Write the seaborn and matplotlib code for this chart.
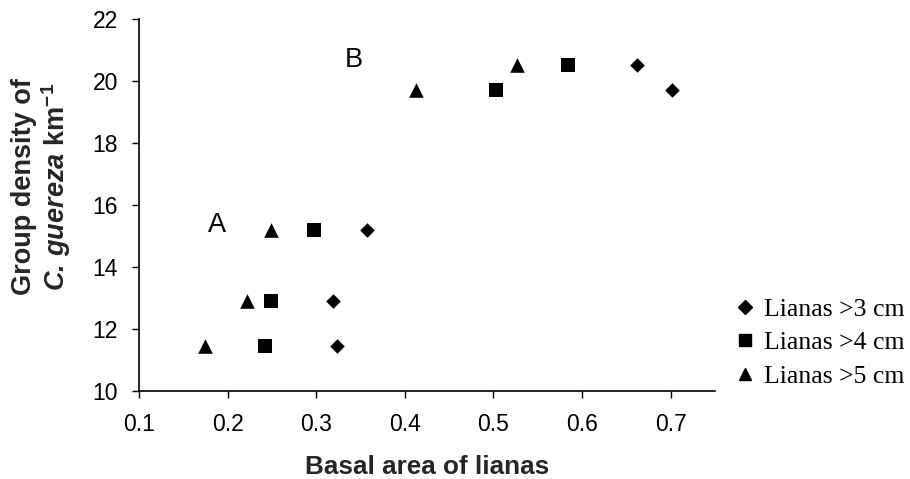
import matplotlib
matplotlib.use("Agg")
import matplotlib.pyplot as plt
import seaborn as sns
import pandas as pd

# Data
basal_3cm = [0.357, 0.319, 0.324, 0.662, 0.701]
density_3cm = [15.18, 12.92, 11.44, 20.52, 19.71]
basal_4cm = [0.298, 0.249, 0.242, 0.584, 0.503]
density_4cm = [15.18, 12.92, 11.44, 20.52, 19.71]
basal_5cm = [0.249, 0.222, 0.174, 0.527, 0.413]
density_5cm = [15.18, 12.92, 11.44, 20.52, 19.71]
series_names = ["Lianas >3 cm", "Lianas >4 cm", "Lianas >5 cm"]
x_ticks = [0.1, 0.2, 0.3, 0.4, 0.5, 0.6, 0.7]
y_ticks = [10, 12, 14, 16, 18, 20, 22]
group_labels = ["A", "B"]
group_label_x = [0.188, 0.342]
group_label_y = [15.35, 20.68]

sns.set_theme(style="white")
plt.rcParams["font.family"] = ["Liberation Sans", "DejaVu Sans"]
plt.rcParams["mathtext.fontset"] = "custom"
plt.rcParams["mathtext.rm"] = "Liberation Sans"
plt.rcParams["mathtext.it"] = "Liberation Sans:italic"
plt.rcParams["mathtext.bf"] = "Liberation Sans:bold"
plt.rcParams["mathtext.bfit"] = "Liberation Sans:bold:italic"

df = pd.concat([
    pd.DataFrame({"basal": basal_3cm, "density": density_3cm, "series": series_names[0]}),
    pd.DataFrame({"basal": basal_4cm, "density": density_4cm, "series": series_names[1]}),
    pd.DataFrame({"basal": basal_5cm, "density": density_5cm, "series": series_names[2]}),
])

fig = plt.figure(figsize=(9.1, 4.79), dpi=100)
ax = fig.add_axes([0.1527, 0.1837, 0.633, 0.7763])

markers = {series_names[0]: "D", series_names[1]: "s", series_names[2]: "^"}
sizes = {series_names[0]: 55, series_names[1]: 105, series_names[2]: 110}
for name in series_names:
    sub = df[df["series"] == name]
    sns.scatterplot(data=sub, x="basal", y="density", marker=markers[name],
                    s=sizes[name], color="black", edgecolor="black",
                    linewidth=0, ax=ax, label=name, legend=False)

for t, gx, gy in zip(group_labels, group_label_x, group_label_y):
    ax.text(gx, gy, t, fontsize=19.5, ha="center", va="center", color="black")

ax.set_xlim(0.1, 0.75)
ax.set_ylim(10, 22)
ax.set_xticks(x_ticks)
ax.set_xticklabels([f"{v:.1f}" for v in x_ticks])
ax.set_yticks(y_ticks)
ax.set_yticklabels([str(v) for v in y_ticks])
ax.tick_params(axis="both", which="major", labelsize=16.5, colors="black",
               direction="out", length=5, width=1, left=True, bottom=True)
ax.tick_params(axis="x", pad=10.5)
ax.tick_params(axis="y", pad=10)

for side in ["top", "right"]:
    ax.spines[side].set_visible(False)
for side in ["left", "bottom"]:
    ax.spines[side].set_color("black")
    ax.spines[side].set_linewidth(1.2)

ax.set_xlabel("Basal area of lianas", fontsize=18.8, fontweight="bold", labelpad=14)
ax.set_ylabel("Group density of\n" + r"$\mathbfit{C.\,guereza}$" + " km$^{\\mathbf{-1}}$",
              fontsize=19.5, fontweight="bold", linespacing=1.1, va="center")
ax.yaxis.set_label_coords(-0.168, 0.55)

handles = [plt.Line2D([], [], marker=markers[n], color="black", linestyle="none",
                      markersize=(6.8 if markers[n] == "D" else 9.3)) for n in series_names]
leg = fig.legend(handles, series_names, loc="center left", bbox_to_anchor=(0.81, 0.284),
                 frameon=False, handlelength=0.6, handletextpad=0.45, labelspacing=0.4,
                 borderpad=0, borderaxespad=0,
                 prop={"family": "Liberation Serif", "size": 18.5})
for t in leg.get_texts():
    t.set_color("black")

fig.savefig("out.png", dpi=100)
